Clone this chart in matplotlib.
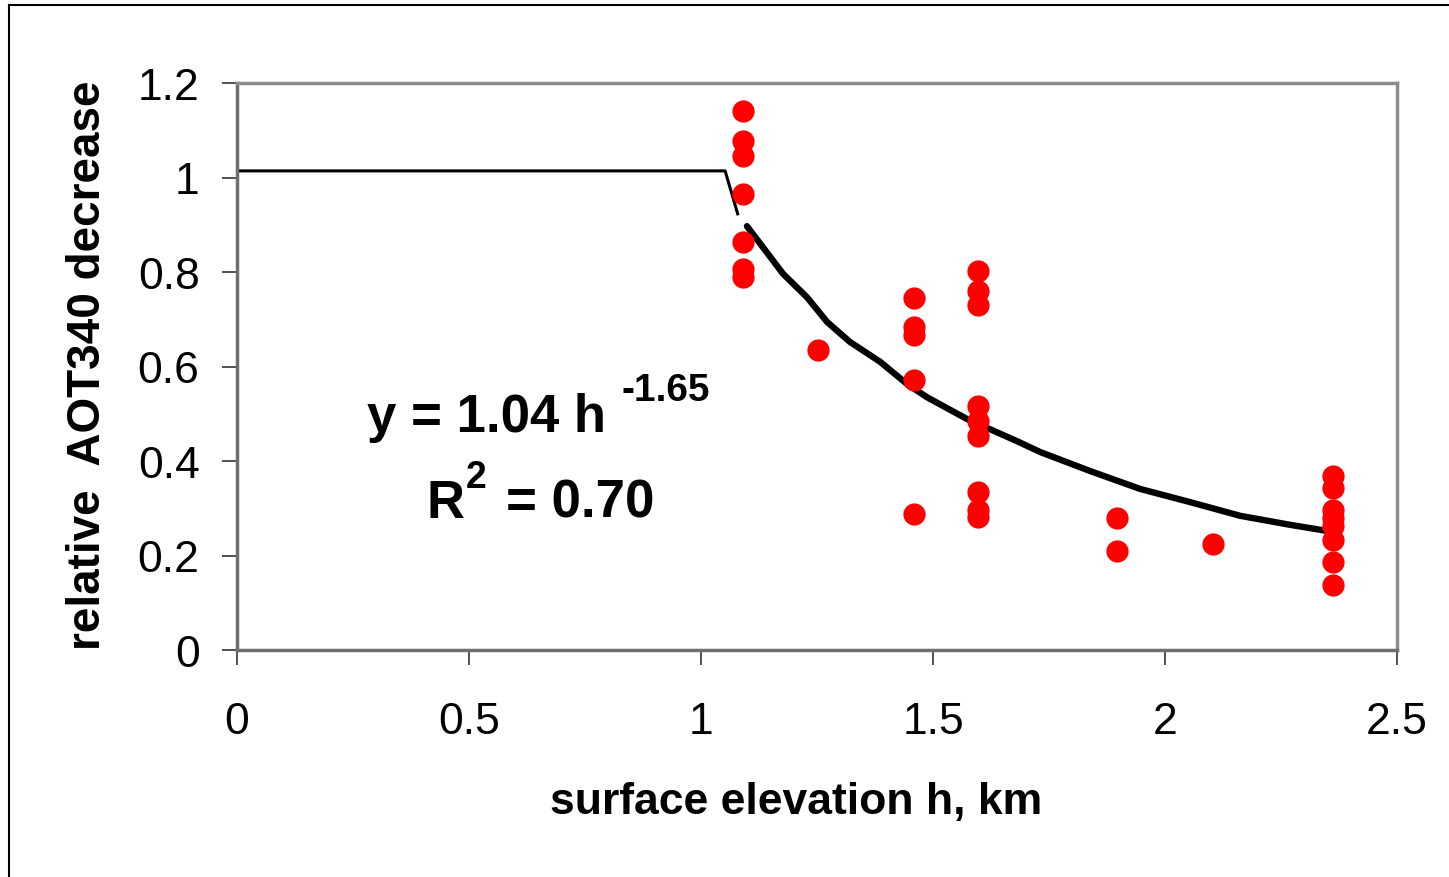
import matplotlib.pyplot as plt
from matplotlib.lines import Line2D

plt.rcParams['font.family'] = ['Liberation Sans', 'DejaVu Sans']

# measured points: surface elevation (km) vs relative AOT340 decrease
h_obs = [1.09, 1.09, 1.09, 1.09, 1.09, 1.09, 1.09,
         1.252,
         1.459, 1.459, 1.459, 1.459, 1.459,
         1.597, 1.597, 1.597, 1.597, 1.597, 1.597, 1.597, 1.597, 1.597,
         1.897, 1.897,
         2.103,
         2.362, 2.362, 2.362, 2.362, 2.362, 2.362, 2.362, 2.362]
aot_obs = [1.14, 1.077, 1.045, 0.965, 0.863, 0.806, 0.79,
           0.635,
           0.745, 0.684, 0.667, 0.571, 0.288,
           0.802, 0.76, 0.73, 0.516, 0.485, 0.453, 0.334, 0.296, 0.281,
           0.279, 0.21,
           0.224,
           0.368, 0.343, 0.296, 0.279, 0.262, 0.233, 0.186, 0.138]

# plateau below ~1 km (thin line)
h_flat = [0.0, 1.052, 1.08]
aot_flat = [1.014, 1.014, 0.92]

# power-law fit curve
h_fit = [1.099, 1.177, 1.228, 1.272, 1.321, 1.386, 1.444, 1.487, 1.573,
         1.681, 1.731, 1.838, 1.946, 2.054, 2.162, 2.269, 2.362]
aot_fit = [0.897, 0.796, 0.747, 0.694, 0.652, 0.610, 0.563, 0.535, 0.489,
           0.442, 0.419, 0.379, 0.341, 0.313, 0.284, 0.265, 0.250]

W, H = 1449, 878
fig = plt.figure(figsize=(W / 100, H / 100), dpi=100)
ax = fig.add_axes([237 / W, 1 - 651 / H, (1397 - 237) / W, (651 - 84) / H])

ax.plot(h_flat, aot_flat, color='black', lw=2.2, solid_capstyle='butt')
ax.plot(h_fit, aot_fit, color='black', lw=4.6, solid_capstyle='round',
        solid_joinstyle='round')
ax.plot(h_obs, aot_obs, 'o', color='red', ms=16, mec='none', zorder=3)

ax.set_xlim(0, 2.5)
ax.set_ylim(0, 1.2)
ax.set_xticks([0, 0.5, 1, 1.5, 2, 2.5])
ax.set_xticklabels(['0', '0.5', '1', '1.5', '2', '2.5'])
ax.set_yticks([0, 0.2, 0.4, 0.6, 0.8, 1, 1.2])
ax.set_yticklabels(['0', '0.2', '0.4', '0.6', '0.8', '1', '1.2'])
ax.tick_params(axis='both', direction='out', length=11, width=1.2,
               color='#333333', labelsize=32, pad=16)
ax.tick_params(axis='x', pad=26)

for s in ax.spines.values():
    s.set_color('#8c8c8c')
    s.set_linewidth(2.5)
ax.spines['left'].set_color('#6e6e6e')
ax.spines['bottom'].set_color('#6e6e6e')

fig.text(796 / W, 1 - 803 / H, 'surface elevation h, km', fontsize=32,
         fontweight='bold', ha='center', va='center')
fig.text(88 / W, 1 - 365 / H, 'relative  AOT340 decrease', fontsize=33,
         fontweight='bold', ha='center', va='center', rotation=90)

# fit equation
fig.text(486 / W, 1 - 432 / H, 'y = 1.04 h', fontsize=38, fontweight='bold',
         ha='center', va='baseline')
fig.text(666 / W, 1 - 401 / H, '-1.65', fontsize=28, fontweight='bold',
         ha='center', va='baseline')
fig.text(445 / W, 1 - 518 / H, 'R', fontsize=38, fontweight='bold',
         ha='center', va='baseline')
fig.text(476 / W, 1 - 488 / H, '2', fontsize=27, fontweight='bold',
         ha='center', va='baseline')
fig.text(580 / W, 1 - 518 / H, '= 0.70', fontsize=38, fontweight='bold',
         ha='center', va='baseline')

# outer chart frame
fig.add_artist(Line2D([9 / W, 9 / W], [0, 1 - 6 / H], color='black', lw=1.5))
fig.add_artist(Line2D([9 / W, 1], [1 - 6 / H, 1 - 6 / H], color='black', lw=1.5))

fig.savefig('out.png', dpi=100)
